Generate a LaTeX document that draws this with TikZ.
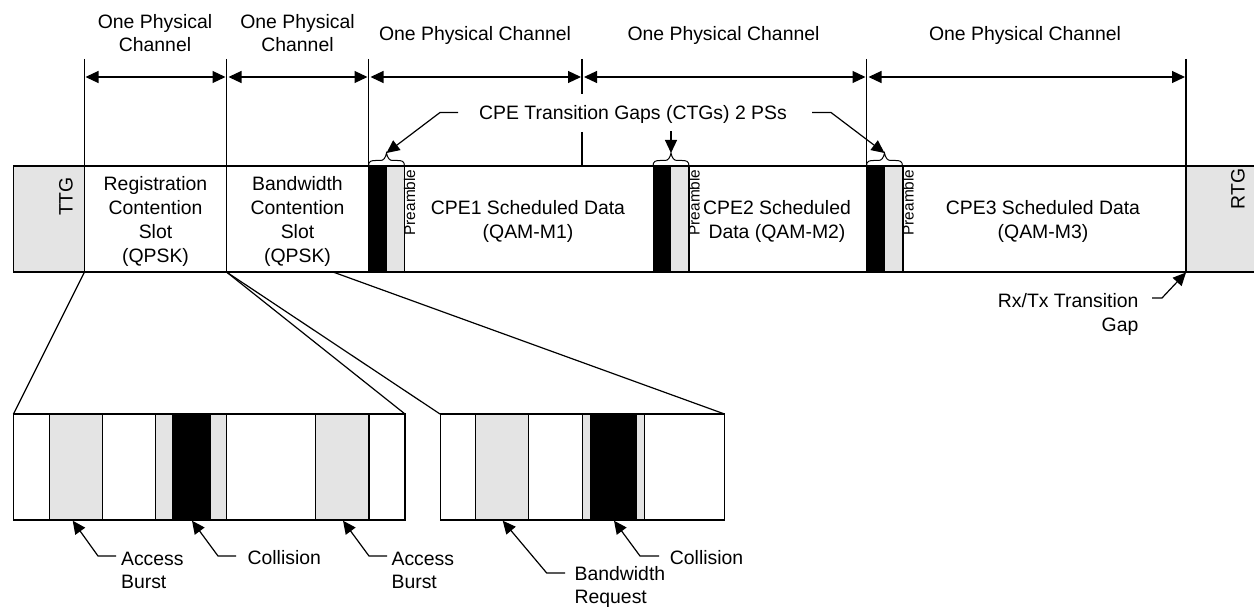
\documentclass[tikz,border=0pt]{standalone}
\usepackage{fontspec}
\setmainfont{Liberation Sans}
\usetikzlibrary{arrows.meta}
\definecolor{gapgrey}{HTML}{E4E4E4}
\newcommand{\bigfont}{\fontsize{19.4pt}{23.8pt}\selectfont}
\newcommand{\smallfont}{\fontsize{15.4pt}{18pt}\selectfont}
\tikzset{
  x=1pt,y=-1pt,
  every path/.style={line width=1.2pt},
  txt/.style={font=\bigfont,inner sep=0pt,align=center},
  txtl/.style={font=\bigfont,inner sep=0pt,align=left,anchor=west},
  leader/.style={draw,-{Triangle[length=13pt,width=12pt]}},
  dim/.style={draw,{Triangle[length=13pt,width=12pt]}-{Triangle[length=13pt,width=12pt]}},
  pre/.style={font=\smallfont,inner sep=0pt,rotate=90},
}
\begin{document}
\begin{tikzpicture}
\useasboundingbox (0,0) rectangle (1254,607);
% main band
\fill[gapgrey] (13.5,166) rectangle (84.5,272);
\fill[gapgrey] (1186,166) rectangle (1254,272);
\foreach \a/\b/\c in {368.5/387/404.5,653/671/689,866.5/885/903}{
  \fill[gapgrey] (\b,166) rectangle (\c,272);
  \fill[black] (\a,166) rectangle (\b,272);
  \draw (\c,166) -- (\c,272);
}
\draw (1254,166) -- (13.5,166) -- (13.5,272) -- (1254,272);
% vertical channel markers
\foreach \x in {84.5,226.5,368.5,866.5,1186}{\draw (\x,59) -- (\x,272);}
\coordinate (m0) at (84.5,77);
\coordinate (m1) at (226.5,77);
\coordinate (m2) at (368.5,77);
\coordinate (m3) at (582,77);
\coordinate (m4) at (866.5,77);
\coordinate (m5) at (1186,77);
\draw (582,59) -- (582,94);
\draw (582,132) -- (582,166);
\draw[dim] ([xshift=1pt]m0) -- ([xshift=-1pt]m1);
\draw[dim] ([xshift=2pt]m1) -- ([xshift=-1pt]m2);
\draw[dim] ([xshift=2pt]m2) -- ([xshift=-1pt]m3);
\draw[dim] ([xshift=2pt]m3) -- ([xshift=-1pt]m4);
\draw[dim] ([xshift=2pt]m4) -- ([xshift=-1pt]m5);
% channel labels
\node[txt] (ch1) at (155,33) {One Physical\\Channel};
\node[txt] (ch2) at (297.5,33) {One Physical\\Channel};
\node[txt] (ch3) at (475,35) {One Physical Channel};
\node[txt] (ch4) at (723.5,35) {One Physical Channel};
\node[txt] (ch5) at (1025,35) {One Physical Channel};
% band labels
\node[txt,rotate=90] (ttg) at (66,196.5) {TTG};
\node[txt,rotate=90] (rtg) at (1238,189) {RTG};
\node[txt] (reg) at (155.5,221.5) {Registration\\Contention\\Slot\\(QPSK)};
\node[txt] (bw) at (297.5,221.5) {Bandwidth\\Contention\\Slot\\(QPSK)};
\node[txt] (cpe1) at (528,221.5) {CPE1 Scheduled Data\\(QAM-M1)};
\node[txt] (cpe2) at (777,221.5) {CPE2 Scheduled\\Data (QAM-M2)};
\node[txt] (cpe3) at (1043,221.5) {CPE3 Scheduled Data\\(QAM-M3)};
\node[pre] (pr1) at (409.5,202.5) {Preamble};
\node[pre] (pr2) at (694,202.5) {Preamble};
\node[pre] (pr3) at (908,202.5) {Preamble};
% braces
\foreach \n/\x in {1/368.5,2/653,3/866.5}{
  \draw[line width=1pt] (\x,166) .. controls (\x,161) and (\x+3,160.5) .. (\x+7,160.5)
    -- (\x+12,160.5) .. controls (\x+15,160.5) and (\x+17,158) .. (\x+18,153)
    .. controls (\x+19,158) and (\x+21,160.5) .. (\x+24,160.5)
    -- (\x+29,160.5) .. controls (\x+33,160.5) and (\x+36,161) .. (\x+36,166);
  \coordinate (b\n) at (\x+18,153);
}
% CTG label and its leaders
\node[txt] (ctg) at (633,114) {CPE Transition Gaps (CTGs) 2 PSs};
\coordinate (ctgl) at (458,112.5);
\coordinate (ctgr) at (812,112.5);
\coordinate (ctgm) at (671,131.5);
\draw[leader] (ctgl) -- (440,112.5) -- (b1);
\draw[leader] (ctgm) -- (b2);
\draw[leader] (ctgr) -- (831,112.5) -- (b3);
% Rx/Tx
\node[txt,align=right,anchor=north east] (rx) at (1139,293) {Rx/Tx Transition\\Gap};
\draw[leader] (1152,298) -- (1162,298) -- (1186,272.5);
% fan lines
\draw (84.5,272) -- (13.5,414);
\draw (226.5,272) -- (405,414);
\draw (226.5,272) -- (440,414);
\draw (333,272) -- (724.5,414);
% left detail
\fill[gapgrey] (49.5,414) rectangle (102.5,520);
\fill[gapgrey] (155.5,414) rectangle (226.5,520);
\fill[gapgrey] (315.5,414) rectangle (369,520);
\fill[black] (173,414) rectangle (210,520);
\draw (13.5,414) rectangle (405,520);
\foreach \x in {49.5,102.5,155.5,173,210,226.5,315.5,369}{\draw (\x,414) -- (\x,520);}
% right detail
\fill[gapgrey] (475.7,414) rectangle (528.7,520);
\fill[gapgrey] (582.7,414) rectangle (644.3,520);
\fill[black] (591,414) rectangle (636,520);
\draw (440.3,414) rectangle (724.7,520);
\foreach \x in {475.7,528.7,582.7,591,636,644.3}{\draw (\x,414) -- (\x,520);}
% lower labels
\node[txtl] (ab1) at (120.5,570.5) {Access\\Burst};
\node[txtl] (col1) at (247,558) {Collision};
\node[txtl] (ab2) at (391,570.5) {Access\\Burst};
\node[txtl] (req) at (574,587) {Bandwidth\\Request};
\node[txtl] (col2) at (669.3,558) {Collision};
\draw[leader] (116,556) -- (98,556) -- (72.7,520.7);
\draw[leader] (236,556) -- (218,556) -- (192,520.7);
\draw[leader] (387,556) -- (369,556) -- (343,520.7);
\draw[leader] (565,573) -- (546.7,573) -- (502.7,520.7);
\draw[leader] (659,556) -- (640,556) -- (614,520.7);
\end{tikzpicture}
\end{document}
